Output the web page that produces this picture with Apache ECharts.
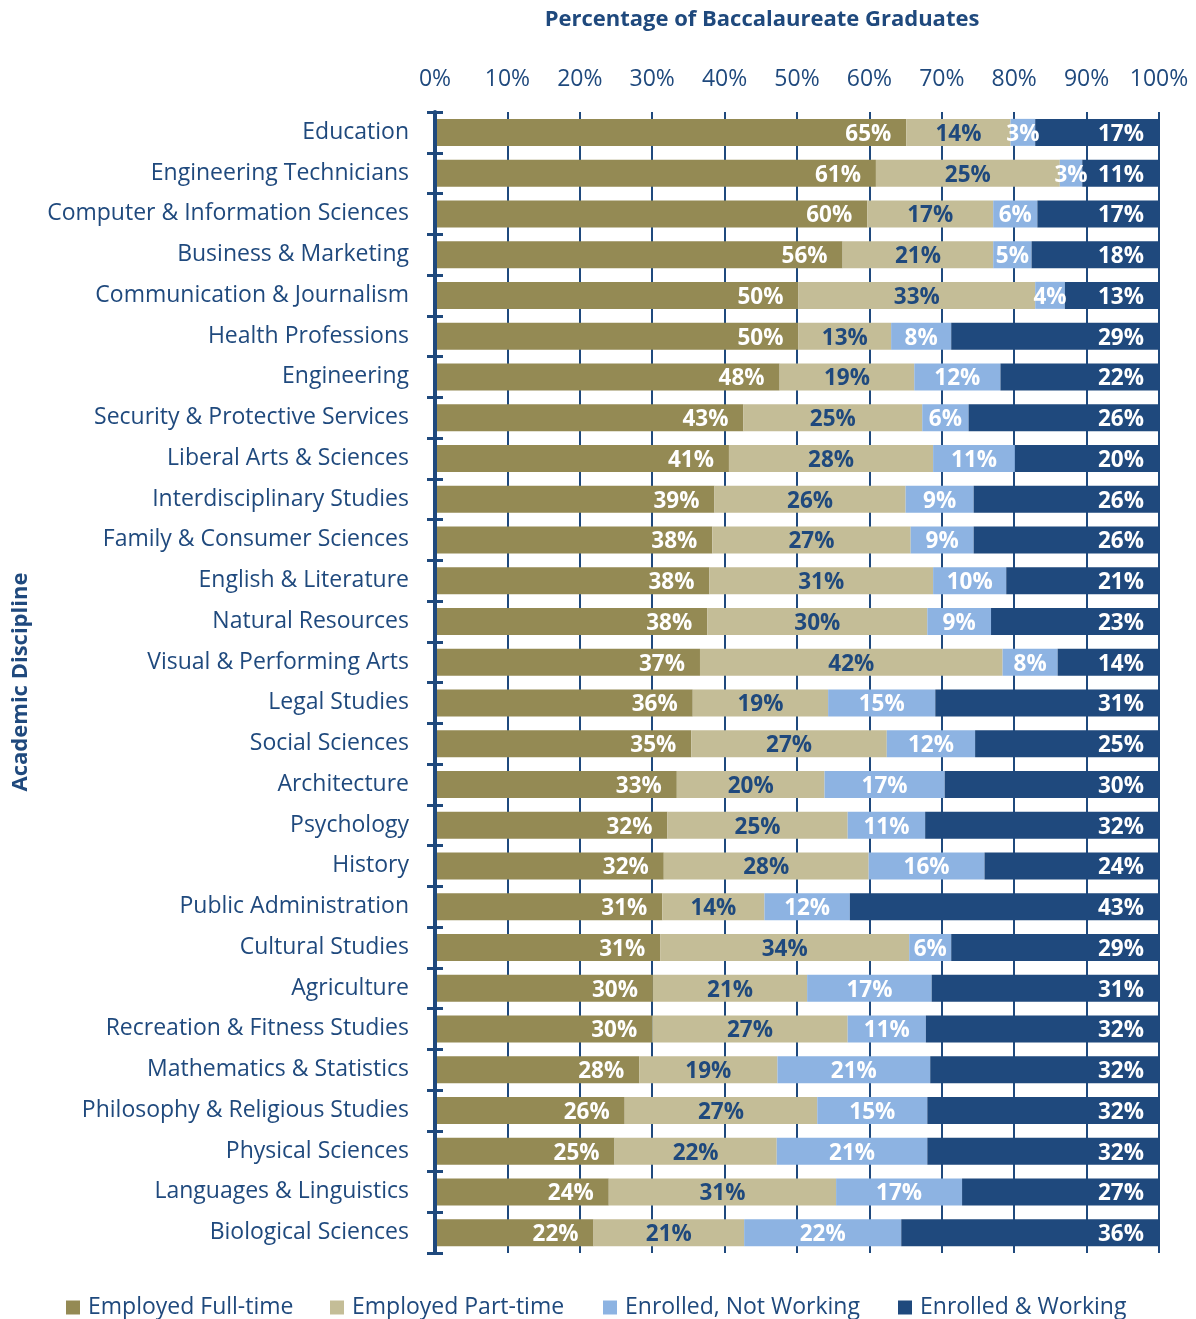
<!DOCTYPE html>
<html><head><meta charset="utf-8">
<script src="https://cdn.jsdelivr.net/npm/echarts@6/dist/echarts.min.js"></script>
<style>html,body{margin:0;padding:0;background:#fff}#c{width:1196px;height:1319px}</style>
</head><body><div id="c"></div>
<script>
const categories = [
  'Education','Engineering Technicians','Computer & Information Sciences','Business & Marketing',
  'Communication & Journalism','Health Professions','Engineering','Security & Protective Services',
  'Liberal Arts & Sciences','Interdisciplinary Studies','Family & Consumer Sciences','English & Literature',
  'Natural Resources','Visual & Performing Arts','Legal Studies','Social Sciences','Architecture',
  'Psychology','History','Public Administration','Cultural Studies','Agriculture',
  'Recreation & Fitness Studies','Mathematics & Statistics','Philosophy & Religious Studies',
  'Physical Sciences','Languages & Linguistics','Biological Sciences'
];
const employedFullTime   = [65.1,60.9,59.7,56.3,50.2,50.2,47.6,42.6,40.6,38.6,38.3,37.9,37.6,36.6,35.6,35.4,33.4,32.1,31.6,31.4,31.1,30.1,30.0,28.2,26.2,24.8,24.0,21.9];
const employedPartTime   = [14.4,25.4,17.4,20.8,32.7,12.8,18.6,24.7,28.2,26.4,27.4,30.9,30.4,41.8,18.7,27.0,20.4,24.9,28.3,14.1,34.4,21.3,27.0,19.1,26.6,22.4,31.4,20.8];
const enrolledNotWorking = [3.4,3.1,6.1,5.3,4.1,8.3,11.9,6.4,11.3,9.4,8.7,10.1,8.8,7.6,14.8,12.2,16.6,10.7,16.0,11.8,5.8,17.2,10.8,21.1,15.2,20.8,17.4,21.7];
const enrolledWorking    = [17.1,10.6,16.8,17.6,13.0,28.7,21.9,26.3,19.9,25.6,25.6,21.1,23.2,14.0,30.9,25.4,29.6,32.3,24.1,42.7,28.7,31.4,32.2,31.6,32.0,32.0,27.2,35.6];
const seriesNames = ['Employed Full-time','Employed Part-time','Enrolled, Not Working','Enrolled & Working'];
const tickLabels = ['0%','10%','20%','30%','40%','50%','60%','70%','80%','90%','100%'];

const NAVY = '#1F497D';
const FONT = "'Open Sans', sans-serif";
const colors = ['#948A54','#C4BD97','#8DB3E2','#1F497D'];
const labelColors = ['#ffffff', NAVY, '#ffffff', '#ffffff'];
const labelPos = ['insideRight','inside','inside','insideRight'];
const dataSets = [employedFullTime, employedPartTime, enrolledNotWorking, enrolledWorking];

const chart = echarts.init(document.getElementById('c'), null, {renderer:'canvas'});
const series = dataSets.map((d, i) => ({
  name: seriesNames[i], type: 'bar', stack: 'total', data: d, barWidth: 27,
  itemStyle: { color: colors[i] },
  emphasis: { disabled: true },
  label: {
    show: true, position: labelPos[i], distance: 15, offset: [0, 2],
    color: labelColors[i], fontFamily: FONT, fontWeight: 'bold', fontSize: 22.5,
    formatter: p => Math.round(p.value) + '%'
  }
}));
const legendLefts = [66, 330, 603, 898];
const option = {
  animation: false,
  backgroundColor: '#ffffff',
  grid: { left: 435, right: 37, top: 112, bottom: 66, containLabel: false },
  xAxis: {
    type: 'value', position: 'top', min: 0, max: 100, interval: 10,
    axisLine: { show: false }, axisTick: { show: false },
    axisLabel: { color: NAVY, fontFamily: FONT, fontSize: 23, margin: 21,
      formatter: v => tickLabels[Math.round(v / 10)] },
    splitLine: { show: true, lineStyle: { color: NAVY, width: 2 } }
  },
  yAxis: [{
    type: 'category', data: categories, inverse: true, z: 5,
    axisLine: { show: true, lineStyle: { color: NAVY, width: 4 } },
    axisTick: { show: true, length: 8, lineStyle: { color: NAVY, width: 3 } },
    axisLabel: { color: NAVY, fontFamily: FONT, fontSize: 23, margin: 26, padding: [8, 0, 0, 0] },
    splitLine: { show: false }
  }, {
    type: 'category', data: categories, inverse: true, position: 'left', offset: 0, z: 5,
    axisLine: { show: false },
    axisTick: { show: true, inside: true, length: 8, lineStyle: { color: NAVY, width: 3 } },
    axisLabel: { show: false }, splitLine: { show: false }
  }],
  legend: seriesNames.map((n, i) => ({
    data: [n], left: legendLefts[i], top: 1296, icon: 'rect', itemWidth: 14, itemHeight: 14,
    itemGap: 0, padding: 0, selectedMode: false,
    textStyle: { color: NAVY, fontFamily: FONT, fontSize: 23, padding: [2, 0, 0, 3] }
  })),
  graphic: [
    { type: 'text', x: 762, y: 20, style: { text: 'Percentage of Baccalaureate Graduates',
      fill: NAVY, font: "bold 22px 'Open Sans', sans-serif", textAlign: 'center', textVerticalAlign: 'middle' } },
    { type: 'text', x: 21, y: 682, rotation: Math.PI / 2, style: { text: 'Academic Discipline',
      fill: NAVY, font: "bold 22px 'Open Sans', sans-serif", textAlign: 'center', textVerticalAlign: 'middle' } }
  ],
  series: series
};
chart.setOption(option);
</script></body></html>
